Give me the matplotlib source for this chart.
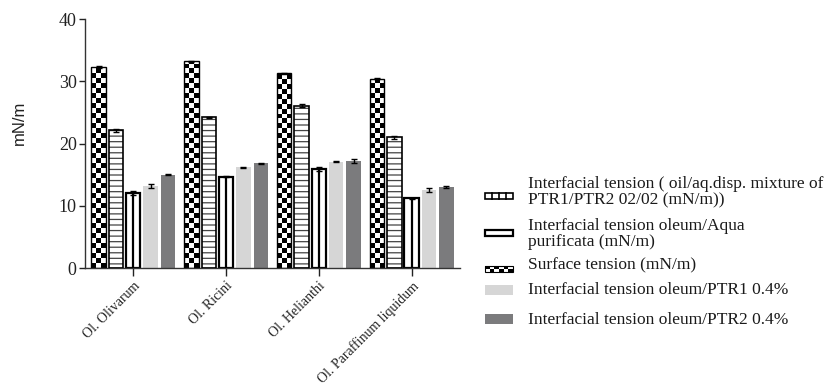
import numpy as np
import matplotlib
matplotlib.use("Agg")
import matplotlib.pyplot as plt
from matplotlib.patches import Rectangle

oils = ["Ol. Olivarum", "Ol. Ricini", "Ol. Helianthi", "Ol. Paraffinum liquidum"]

surface = [32.3, 33.2, 31.3, 30.4]
mix_ptr = [22.1, 24.2, 26.1, 21.0]
aqua = [12.1, 14.7, 15.9, 11.2]
ptr1 = [13.2, 16.2, 17.1, 12.5]
ptr2 = [15.0, 16.8, 17.2, 13.0]

surface_err = [0.2, 0.1, 0.1, 0.1]
mix_err = [0.3, 0.1, 0.3, 0.2]
aqua_err = [0.3, 0.1, 0.3, 0.1]
ptr1_err = [0.3, 0.1, 0.1, 0.3]
ptr2_err = [0.1, 0.1, 0.3, 0.1]

labels = [
    "Interfacial tension ( oil/aq.disp. mixture of\nPTR1/PTR2 02/02 (mN/m))",
    "Interfacial tension oleum/Aqua\npurificata (mN/m)",
    "Surface tension (mN/m)",
    "Interfacial tension oleum/PTR1 0.4%",
    "Interfacial tension oleum/PTR2 0.4%",
]

plt.rcParams["font.family"] = "Liberation Serif"
plt.rcParams["hatch.linewidth"] = 0.9

fig = plt.figure(figsize=(8.25, 3.89), dpi=100)
ax = fig.add_axes([0.103, 0.311, 0.4545, 0.640])

x = np.arange(len(oils))
step = 0.187
w = 0.155
cell_h = 0.8
err_kw = dict(fmt="none", ecolor="black", elinewidth=1, capsize=2.2, capthick=1)

# surface tension: checkerboard fill clipped to each bar
bars = ax.bar(x - 2 * step, surface, w, color="white", linewidth=0, zorder=2)
for b, h in zip(bars, surface):
    rows = int(np.ceil(h / cell_h))
    board = np.indices((rows, 3)).sum(axis=0) % 2
    im = ax.imshow(board, cmap="gray", extent=[b.get_x(), b.get_x() + w, 0, rows * cell_h],
                   origin="lower", interpolation="nearest", aspect="auto", zorder=2.5)
    im.set_clip_path(b)
ax.bar(x - 2 * step, surface, w, fill=False, edgecolor="black", linewidth=1.0, zorder=2.6)
ax.errorbar(x - 2 * step, surface, yerr=surface_err, zorder=3, **err_kw)

# oil/aq.disp. mixture: horizontal stripes
ax.bar(x - step, mix_ptr, w, color="white", edgecolor="#444444", hatch="---", linewidth=0, zorder=2)
ax.bar(x - step, mix_ptr, w, fill=False, edgecolor="black", linewidth=1.2, zorder=2.6)
ax.errorbar(x - step, mix_ptr, yerr=mix_err, zorder=3, **err_kw)

# oleum/Aqua purificata: white with heavy verticals
ax.bar(x, aqua, w, color="white", edgecolor="black", linewidth=1.6, zorder=2)
ax.vlines(x, 0, aqua, color="black", linewidth=1.6, zorder=2.6)
ax.errorbar(x, aqua, yerr=aqua_err, zorder=3, **err_kw)

ax.bar(x + step, ptr1, w, color="#d6d6d6", linewidth=0, zorder=2)
ax.errorbar(x + step, ptr1, yerr=ptr1_err, zorder=3, **err_kw)
ax.bar(x + 2 * step, ptr2, w, color="#7b7b7d", linewidth=0, zorder=2)
ax.errorbar(x + 2 * step, ptr2, yerr=ptr2_err, zorder=3, **err_kw)

ax.set_xlim(-0.52, 3.52)
ax.set_ylim(0, 40)
ax.set_yticks([0, 10, 20, 30, 40])
ax.set_xticks(x)
ax.set_xticklabels(oils, rotation=45, ha="right", rotation_mode="anchor", fontsize=10)
ax.tick_params(axis="y", labelsize=13, length=4, width=1, pad=2, colors="#222222")
ax.tick_params(axis="x", length=6, width=1, pad=2, colors="#222222")
for s in ["top", "right"]:
    ax.spines[s].set_visible(False)
for s in ["left", "bottom"]:
    ax.spines[s].set_color("#333333")
    ax.spines[s].set_linewidth(1)

fig.text(0.024, 1 - 123 / 389, "mN/m", rotation=90, va="center", ha="center",
         fontsize=12, family="Liberation Sans", color="#222222")

# legend drawn on an overlay in pixel units
lax = fig.add_axes([0, 0, 1, 1])
lax.set_xlim(0, 825)
lax.set_ylim(389, 0)
lax.axis("off")

sx, sw = 485, 28
text_x = 528
text_y = [192.5, 234, 265, 290, 320]
swatch_y = [196, 233, 269, 290, 319]

# swatch 1: row of boxes
lax.add_patch(Rectangle((sx, swatch_y[0] - 3), sw, 6, facecolor="white", edgecolor="black", linewidth=1.2))
for k in range(1, 4):
    lax.plot([sx + k * sw / 4] * 2, [swatch_y[0] - 3, swatch_y[0] + 3], color="black", linewidth=1.2)
# swatch 2: heavy-edged box
lax.add_patch(Rectangle((sx, swatch_y[1] - 3), sw, 6, facecolor="white", edgecolor="black", linewidth=1.6))
# swatch 3: checkerboard
cs = sw / 6
for i in range(6):
    for j in range(2):
        lax.add_patch(Rectangle((sx + i * cs, swatch_y[2] - 3 + j * 3), cs, 3,
                                facecolor="black" if (i + j) % 2 == 0 else "white",
                                edgecolor="none"))
lax.add_patch(Rectangle((sx, swatch_y[2] - 3), sw, 6, fill=False, edgecolor="black", linewidth=0.8))
# swatches 4, 5: solid greys
lax.add_patch(Rectangle((sx, swatch_y[3] - 5), sw, 10, facecolor="#d6d6d6", edgecolor="none"))
lax.add_patch(Rectangle((sx, swatch_y[4] - 5), sw, 10, facecolor="#7b7b7d", edgecolor="none"))

for ty, lab in zip(text_y, labels):
    lax.text(text_x, ty, lab, va="center", ha="left", fontsize=12.5, linespacing=1.05,
             color="#1a1a1a")

fig.savefig("out.png", dpi=100)
